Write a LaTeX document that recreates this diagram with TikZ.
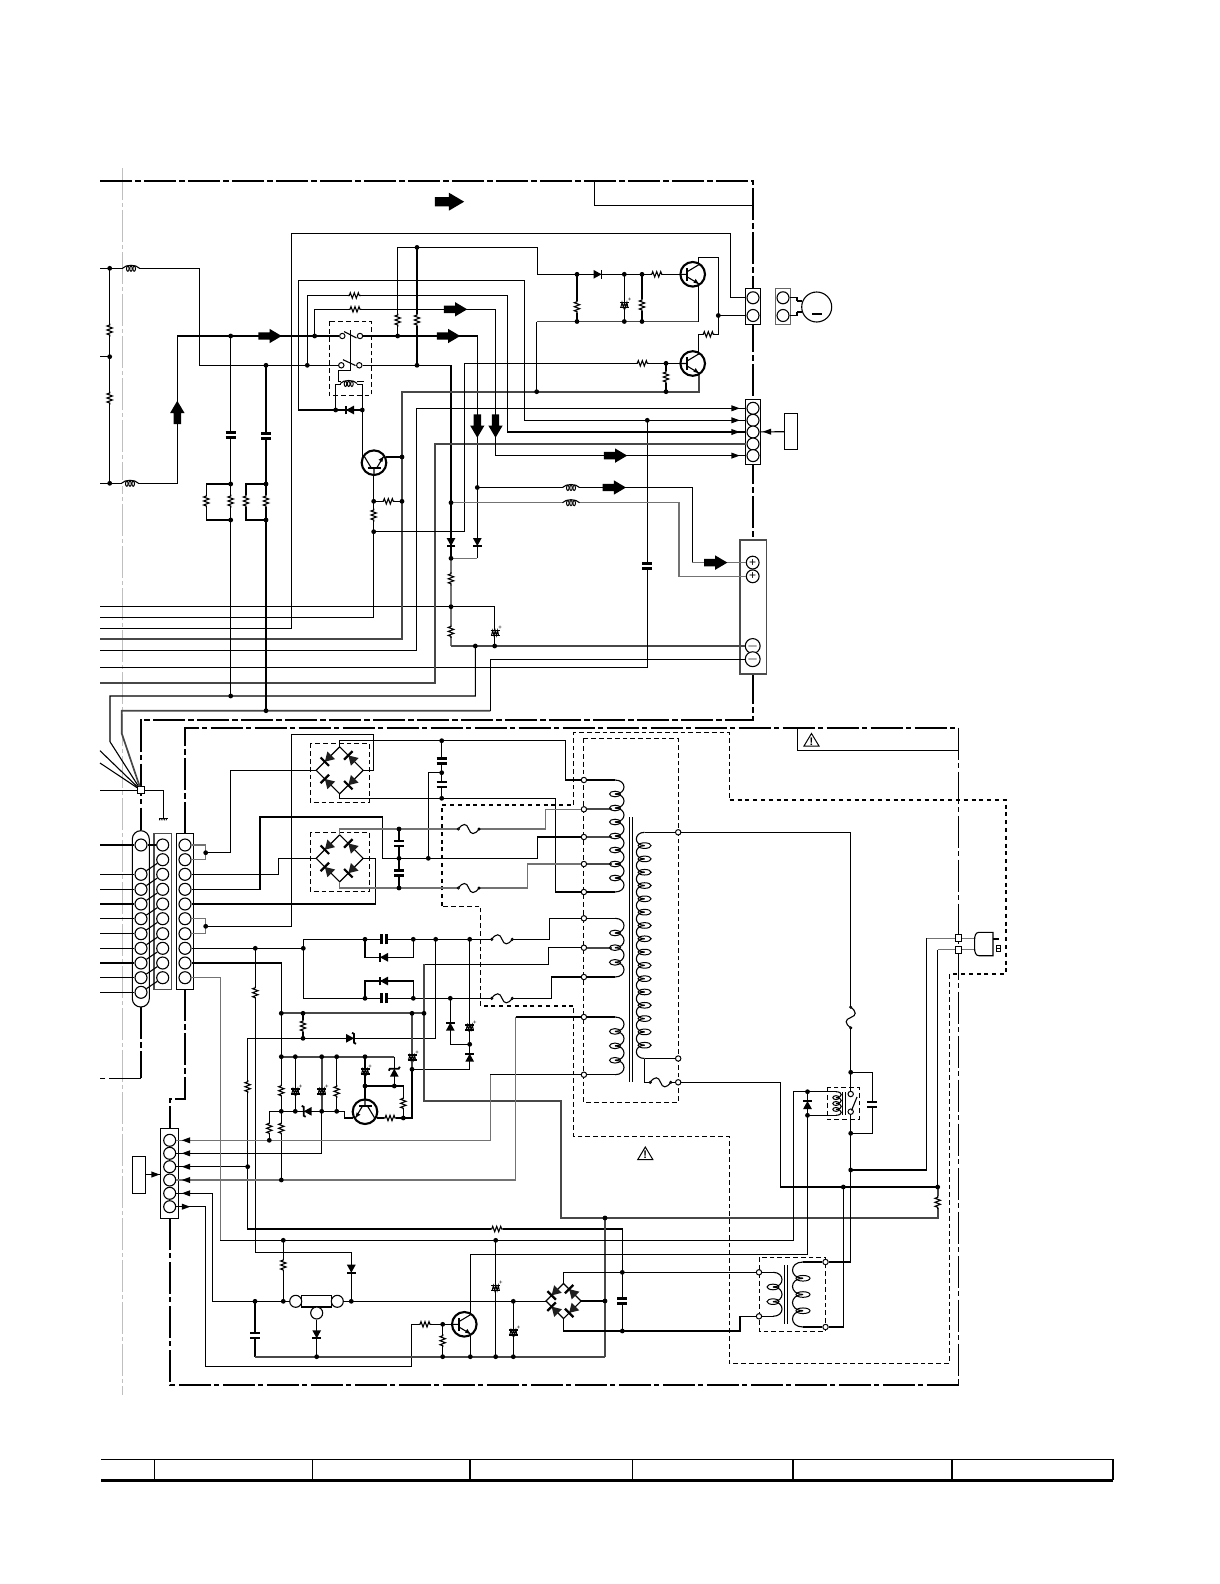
\documentclass[tikz,border=0pt]{standalone}
\usepackage{fontspec}
\setmainfont{Liberation Sans}
\tikzset{
  wire/.style={line width=0.55pt},
  gwire/.style={line width=0.62pt,black!55},
  twire/.style={line width=0.85pt,black!72},
  framel/.style={line width=1.05pt,dash pattern=on 16pt off 1.7pt on 2.6pt off 1.7pt},
  thinf/.style={line width=0.7pt,dash pattern=on 16pt off 1.7pt on 2.6pt off 1.7pt},
  dashb/.style={line width=0.5pt,dash pattern=on 2.4pt off 1.5pt},
  dashk/.style={line width=1pt,dash pattern=on 2pt off 1.9pt},
  jdot/.style={circle,fill=black,minimum size=2.4pt,inner sep=0pt},
  pinc/.style={circle,draw,fill=white,line width=0.55pt,minimum size=6pt,inner sep=0pt},
  pinp/.style={circle,draw,fill=white,line width=0.55pt,minimum size=6.4pt,inner sep=0pt,font=\fontsize{6}{6}\selectfont},
  tpin/.style={circle,draw,fill=white,line width=0.5pt,minimum size=2.7pt,inner sep=0pt},
  sqn/.style={rectangle,draw,fill=white,line width=0.5pt,minimum size=3.4pt,inner sep=0pt},
  res/.pic={
    \fill[white] (-6,-3) rectangle (6,3);
    \draw[wire] (-6.5,0)--(-5,0)--(-4,-2.7)--(-2,2.7)--(0,-2.7)--(2,2.7)--(4,-2.7)--(5,0)--(6.5,0);
  },
  capn/.pic={
    \fill[white] (-5,-2.4) rectangle (5,2.4);
    \draw[line width=1.15pt] (-5,-2.4)--(5,-2.4) (-5,2.4)--(5,2.4);
  },
  ecap/.pic={
    \fill[white] (-4.5,-2.6) rectangle (4.5,2.6);
    \draw[line width=0.85pt] (-4.5,-2.5)--(4.5,-2.5) (-4.5,2.5)--(4.5,2.5);
    \draw[line width=0.5pt] (-3.5,2.5)--(-2.3,-2.5)--(-1,2.5)--(0.2,-2.5)--(1.4,2.5)--(2.6,-2.5)--(3.6,2.5);
    \node[font=\fontsize{3}{3}\selectfont,inner sep=0pt] (-plus) at (5.2,-5) {+};
  },
  diode/.pic={
    \fill (-4,-4.4)--(-4,4.4)--(4,0)--cycle;
    \draw[line width=0.9pt] (4,-4.4)--(4,4.4);
  },
  zener/.pic={
    \fill (-4,-4.4)--(-4,4.4)--(4,0)--cycle;
    \draw[line width=0.9pt] (2,-5.5)--(4,-4.4)--(4,4.4)--(6,5.5);
  },
  bdiode/.pic={
    \fill[black!88] (-4.6,-5.4)--(-4.6,5.4)--(4.4,0)--cycle;
    \draw[line width=1.1pt] (4.4,-6)--(4.4,6);
  },
  bridge/.pic={
    \draw[wire] (-23.5,0)--(0,-23.5)--(23.5,0)--(0,23.5)--cycle;
    \pic[rotate=225] at (-11.75,-11.75) {bdiode};
    \pic[rotate=135] at (-11.75,11.75) {bdiode};
    \pic[rotate=135] at (11.75,-11.75) {bdiode};
    \pic[rotate=225] at (11.75,11.75) {bdiode};
  },
  trans/.pic={
    \fill[white] (0,0) circle (12.3);
    \draw[line width=1.05pt] (0,0) circle (12.3);
    \draw[line width=1pt] (-5.5,-6.5)--(-5.5,6.5);
    \draw[wire] (-12.3,0)--(-5.5,0) (-5.5,-2.6)--(6,-9.5) (-5.5,2.6)--(6,9.5);
    \fill (6,9.5)--(0.7,8.3)--(3,4.6)--cycle;
  },
  inductor/.pic={
    \fill[white] (-8,-3) rectangle (8,3);
    \draw[wire] (-8.5,0) .. controls (-5,-4) and (5,-4) .. (8.5,0);
    \foreach \k in {-3.2,0,3.2} \draw[line width=0.5pt] (\k,0.4) ellipse (1.3 and 2.6);
  },
  fuse/.pic={
    \fill[white] (-10,-5) rectangle (10,5);
    \draw[wire] (-10.3,0) .. controls (-6,-6) and (-2,-6) .. (0,0) .. controls (2,6) and (6,6) .. (10.3,0);
    \draw[line width=0.45pt,fill=white] (-10.3,0) circle (1.1) (10.3,0) circle (1.1);
  },
  headr/.pic={\fill (-4.2,-3.1)--(-4.2,3.1)--(4.2,0)--cycle;},
  blockar/.pic={
    \fill (-11.7,-3.7)--(-0.5,-3.7)--(-0.5,-7.2)--(11.7,0)--(-0.5,7.2)--(-0.5,3.7)--(-11.7,3.7)--cycle;
  },
  gnd/.pic={
    \draw[line width=0.8pt] (-4.4,0)--(4.4,0);
    \foreach \k in {-3.4,-1.7,0,1.7,3.4} \draw[line width=0.4pt] (\k,0)--(\k-0.6,2);
  },
  warntri/.pic={
    \draw[line width=0.5pt] (-7.5,6)--(0,-6.5)--(7.5,6)--cycle;
    \node[font=\fontsize{5.5}{5.5}\selectfont\bfseries,inner sep=0pt] (-mark) at (0,1.5) {!};
  },
}
% one winding, from the top to the bottom with little loops at the joints
\newcommand{\winding}[6]{%
  \pgfmathsetmacro{\wstep}{(#3-#2)/(#4+1)}
  \pgfmathsetmacro{\wx}{#1+#5}
  \pgfmathsetmacro{\wry}{min(2.8,0.33*\wstep)}
  \foreach \k in {0,...,#4}{
    \pgfmathsetmacro{\wa}{#2+\k*\wstep}
    \pgfmathsetmacro{\wb}{\wa+\wstep}
    \draw[wire] (#1,\wa) .. controls (\wx,\wa) and (\wx,\wb) .. (#1,\wb);
  }
  \foreach \k in {1,...,#4}{
    \pgfmathsetmacro{\wa}{#2+\k*\wstep}
    \draw[line width=0.5pt] (#1,\wa) ellipse (#6 and \wry);
  }
}
\begin{document}
\begin{tikzpicture}[x=0.5pt,y=-0.5pt]
  \useasboundingbox (0,0) rectangle (1220,1584);
  % cut line
  \draw[line width=0.5pt,black!25,dash pattern=on 16pt off 1.5pt on 2pt off 1.5pt] (122.5,168) -- (122.5,1395);
  % board frames
  \draw[framel] (100,181) -- (753,181) -- (753,720) -- (140.7,720) -- (140.7,830);
  \draw[framel] (140.7,1007) -- (140.7,1078.3);
  \draw[thinf] (140.7,1078.3) -- (100,1078.3);
  \draw[framel] (185,834) -- (185,727.7) -- (958.5,727.7);
  \draw[thinf] (958.5,727.7) -- (958.5,1385);
  \draw[framel] (958.5,1385) -- (170,1385) -- (170,1128);
  \draw[framel] (185,989) -- (185,1099) -- (170,1099) -- (170,1128);
  \draw[wire] (594.3,181) -- (594.3,205.5) -- (753,205.5);
  \draw[wire] (797.4,727.7) -- (797.4,750.7) -- (958.5,750.7);
  % shield dashes
  \draw[dashb] (573.5,805) -- (573.5,732.7) -- (729.7,732.7) -- (729.7,800);
  \draw[dashk] (729.7,800) -- (1006,800) -- (1006,974) -- (949.8,974);
  \draw[dashb] (949.8,974) -- (949.8,1363) -- (729,1363) -- (729,1136.7) -- (573.4,1136.7) -- (573.4,1006);
  \draw[dashk] (573.4,1006) -- (480.7,1006);
  \draw[dashb] (480.7,1006) -- (480.7,906) -- (441.8,906);
  \draw[dashk] (441.8,906) -- (441.8,805) -- (573.5,805);
  \draw[dashb] (583.5,738.3) rectangle (678.2,1102.3);
  \draw[dashb] (759.3,1257.3) rectangle (825.7,1331);
  \draw[dashb] (827.3,1087.3) rectangle (859.3,1119.3);
  \draw[dashb] (329.3,321.3) rectangle (371.3,395.3);
  \draw[dashb] (310.3,743.3) rectangle (369.3,802.3);
  \draw[dashb] (310.3,832.3) rectangle (369.3,891.3);
  % connector blocks
  \draw[line width=0.55pt,fill=white] (745.7,288.8) rectangle (760.7,324.3);
  \draw[line width=0.55pt,black!60,fill=white] (775.3,288.8) rectangle (790.3,324.3);
  \draw[line width=0.55pt,fill=white] (745.7,399.7) rectangle (760.7,464.4);
  \draw[line width=0.55pt,fill=white] (784.7,413.5) rectangle (797.7,449.3);
  \draw[line width=0.6pt,black!70,fill=white] (740,540) rectangle (766.7,674);
  \draw[line width=0.55pt,fill=white,rounded corners=4.2pt] (132.3,830.7) rectangle (149.3,1007);
  \draw[line width=0.55pt,black!70,fill=white] (154,833.3) rectangle (171.3,989.3);
  \draw[line width=0.55pt,fill=white] (176.3,833.3) rectangle (193.7,989.3);
  \draw[line width=0.55pt,fill=white] (160.7,1128.3) rectangle (178.7,1218.3);
  \draw[line width=0.55pt,fill=white] (132.3,1156.3) rectangle (145.3,1193.3);
  \draw[wire,fill=white] (301.3,1295.3) rectangle (331.3,1307);
  \node[pinc] (cm1) at (753,297.8) {};
  \node[pinc] (cm2) at (753,315.5) {};
  \node[pinc] (mp1) at (783,297.8) {};
  \node[pinc] (mp2) at (783,315.5) {};
  \node[circle,draw,line width=0.55pt,minimum size=15pt,inner sep=0pt] (mot) at (816.7,307) {};
  \foreach \y [count=\i] in {408.3,420.3,432,444,455.6} \node[pinc] (cs\i) at (753,\y) {};
  \node[pinp] (sp1) at (752.7,562.6) {+};
  \node[pinp] (sp2) at (752.7,576.3) {+};
  \node[pinp] (sm1) at (752.7,646) {$-$};
  \node[pinp] (sm2) at (752.7,659.2) {$-$};
  \foreach \y [count=\i] in {845,874.3,889.3,904,918.7,933.7,948.3,963,977.7,992.3} \node[pinc] (ov\i) at (141,\y) {};
  \foreach \y [count=\i] in {845,859.7,874.3,889.3,904,918.7,933.7,948.3,963,977.7} {
    \node[pinc] (st\i) at (162.7,\y) {};
    \node[pinc] (sr\i) at (185,\y) {};
  }
  \foreach \y [count=\i] in {1140.3,1153.3,1166.7,1180,1193.3,1206.7} \node[pinc] (cb\i) at (169.7,\y) {};
  \node[pinc] (rg1) at (295.7,1301.3) {};
  \node[pinc] (rg2) at (337.3,1301.3) {};
  \node[pinc] (rg3) at (316.7,1313) {};
  \node[sqn] (fp) at (141,790.3) {};
  \node[sqn] (pl1) at (958.5,938.3) {};
  \node[sqn] (pl2) at (958.5,949.7) {};
  % relay contacts
  \node[tpin] (rc1) at (342.3,336) {};
  \node[tpin] (rc2) at (360,336) {};
  \node[tpin] (rc3) at (341.3,365.3) {};
  \node[tpin] (rc4) at (359.3,365.3) {};
  \node[tpin] (rl1) at (850.7,1094) {};
  \node[tpin] (rl2) at (850.7,1111.7) {};
  % transformer pins
  \foreach \y [count=\i] in {780,809.3,837,864,892,918.3,947.7,977,1017,1074.7} \node[tpin] (tp\i) at (583.9,\y) {};
  \node[tpin] (tq1) at (678.2,832.3) {};
  \node[tpin] (tq2) at (678.2,1058.5) {};
  \node[tpin] (tq3) at (678.2,1082.3) {};
  \node[tpin] (ta1) at (759,1272.3) {};
  \node[tpin] (ta2) at (759,1316.3) {};
  \node[tpin] (tb1) at (825.5,1262) {};
  \node[tpin] (tb2) at (825.5,1327) {};
  % left filter
  \foreach \y in {268.3,356.7,483.3} \draw[wire] (100,\y) -- (109.7,\y);
  \draw[wire] (109.7,268.3) -- (109.7,483.3);
  \draw[wire] (109.7,268.3) -- (199.3,268.3) -- (199.3,365.3) -- (rc3);
  \draw[wire] (109.7,483.3) -- (177.3,483.3) -- (177.3,336) -- (rc1);
  \draw[wire] (rc2) -- (477.3,336) -- (477.3,558.3);
  \draw[gwire] (477.3,558.3) -- (451,558.3);
  \draw[wire] (rc4) -- (451,365.3) -- (451,558.3);
  \draw[gwire] (451,558.3) -- (451,646);
  \draw[twire] (451,646) -- (sm1);
  % mains lines to the left edge
  \draw[wire] (100,606.7) -- (494.7,606.7) -- (494.7,646);
  \draw[wire] (100,617.3) -- (373.7,617.3) -- (373.7,474);
  \draw[wire] (100,628.3) -- (291.3,628.3) -- (291.3,233.4) -- (730.3,233.4) -- (730.3,297.8) -- (cm1);
  \draw[twire] (100,639) -- (402,639) -- (402,391.7) -- (698.7,391.7) -- (698.7,372);
  \draw[wire] (100,650.3) -- (416.7,650.3) -- (416.7,408.3) -- (cs1);
  \draw[wire] (100,667.3) -- (647.3,667.3) -- (647.3,420.3);
  \draw[twire] (100,683) -- (434.7,683) -- (434.7,444) -- (cs4);
  \draw[wire] (fp) -- (110,741.7) -- (110,696) -- (475.3,696) -- (475.3,646);
  \draw[twire] (fp) -- (121.7,733.3) -- (121.7,710.7) -- (490.3,710.7);
  \draw[wire] (490.3,710.7) -- (490.3,659.2) -- (sm2);
  \draw[wire] (100,750.7) -- (fp);
  \draw[wire] (100,763) -- (fp);
  \draw[wire] (100,790.3) -- (fp);
  \draw[wire] (fp) -- (163.3,790.3) -- (163.3,818);
  % switch and driver
  \draw[wire] (335.7,410) -- (298.3,410) -- (298.3,280.4) -- (524.3,280.4) -- (524.3,420.3) -- (cs2);
  \draw[wire] (307.3,365.3) -- (307.3,295.5) -- (507.3,295.5) -- (507.3,432) -- (cs3);
  \draw[wire] (314.7,336) -- (314.7,309.3) -- (495.5,309.3) -- (495.5,455.6) -- (cs5);
  \draw[wire] (397.7,336) -- (397.7,247.4) -- (537.3,247.4) -- (537.3,274.3) -- (681,274.3);
  \draw[wire] (417,365.3) -- (417,247.4);
  \draw[wire] (335.7,410) -- (362.3,410) -- (362.3,384.3) -- (335.7,384.3) -- cycle;
  \draw[wire] (362.3,410) -- (362.3,460);
  \draw[wire] (386,457) -- (402,457);
  \draw[wire] (373.7,501.3) -- (402,501.3);
  \draw[wire] (373.7,531.7) -- (464.7,531.7) -- (464.7,363.3) -- (680,363.3);
  \draw[wire] (344,331.5) -- (356.5,338);
  \draw[wire] (343,359.7) -- (355.5,365.5);
  \draw[wire] (350.3,330) -- (350.3,370.7) -- (338.7,370.7) -- (338.7,381.7) -- (364,381.7);
  % output transistors
  \draw[wire] (577,274.3) -- (577,321.5);
  \draw[twire] (536.7,321.5) -- (698.7,321.5);
  \draw[wire] (624.3,274.3) -- (624.3,321.5);
  \draw[wire] (642,274.3) -- (642,321.5);
  \draw[wire] (698.7,321.5) -- (698.7,283);
  \draw[wire] (536.7,391.7) -- (536.7,321.5);
  \draw[wire] (698.7,266) -- (698.7,257.5) -- (718.3,257.5) -- (718.3,334.3) -- (698.7,334.3) -- (698.7,355);
  \draw[wire] (718.3,315.5) -- (cm2);
  \draw[wire] (666,363.3) -- (666,391.7);
  \draw[wire] (784.7,431.7) -- (cs3);
  \draw[wire] (mp1) -| (797,301);
  \draw[wire] (797,301) -- (802,301);
  \draw[wire] (mp2) -| (797,312);
  \draw[wire] (797,312) -- (802,312);
  \draw[line width=0.7pt] (812,314) -- (821.7,314);
  % caps to the common line
  \draw[wire] (230.7,336) -- (230.7,696);
  \draw[wire] (266,365.3) -- (266,710.7);
  \draw[wire] (230.7,484) -- (206.3,484) -- (206.3,520) -- (230.7,520);
  \draw[wire] (266,484) -- (246,484) -- (246,520) -- (266,520);
  % speaker lines
  \draw[wire] (477.3,487.5) -- (692.3,487.5) -- (692.3,562.6);
  \draw[gwire] (692.3,562.6) -- (sp1);
  \draw[gwire] (450.5,502.7) -- (679,502.7) -- (679,576.3) -- (sp2);
  % bridges
  \pic at (339.7,770.3) {bridge};
  \pic at (339.7,858.3) {bridge};
  \pic[scale=0.745] at (563.5,1301) {bridge};
  % connector to bridges
  \foreach \i in {2,...,10} \draw[wire] (ov\i) -- (st\i);
  \draw[wire] (ov1) -- (st1);
  \foreach \y [count=\i] in {845,874.3,889.3,904,918.7,933.7,948.3,963,977.7,992.3} \draw[wire] (100,\y) -- (ov\i);
  \draw[gwire] (sr1) -- (205.7,845) -- (205.7,859.7) -- (sr2);
  \draw[wire] (205.7,852.7) -- (230.3,852.7) -- (230.3,770.3) -- (316.2,770.3);
  \draw[wire] (sr3) -- (278.3,874.3) -- (278.3,858.3) -- (316.2,858.3);
  \draw[wire] (sr4) -- (260,889.3) -- (260,817) -- (382.7,817) -- (382.7,858.3) -- (537.3,858.3) -- (537.3,837) -- (tp3);
  \draw[wire] (sr5) -- (375.3,904) -- (375.3,858.3) -- (363.2,858.3);
  \draw[gwire] (sr6) -- (205.7,918.7) -- (205.7,933.7) -- (sr7);
  \draw[wire] (205.7,926.3) -- (291.7,926.3) -- (291.7,734.3) -- (373.3,734.3) -- (373.3,770.3) -- (363.2,770.3);
  \draw[wire] (339.7,746.8) -- (339.7,740.7) -- (565.8,740.7) -- (565.8,780) -- (tp1);
  \draw[wire] (339.7,793.8) -- (339.7,798.3) -- (555.8,798.3) -- (555.8,892) -- (tp5);
  \draw[wire] (441.7,740.7) -- (441.7,798.3);
  \draw[wire] (441.7,772.7) -- (428.3,772.7) -- (428.3,858.3);
  \draw[gwire] (339.7,834.8) -- (339.7,829) -- (545.4,829) -- (545.4,809.3) -- (tp2);
  \draw[gwire] (339.7,881.8) -- (339.7,888) -- (527.3,888) -- (527.3,864) -- (tp4);
  \draw[wire] (399,829) -- (399,888);
  % rectifier rows
  \draw[wire] (sr8) -- (303.3,948.3);
  \draw[wire] (303.3,939.3) -- (303.3,998.3);
  \draw[wire] (303.3,939.3) -- (549.5,939.3) -- (549.5,918.3) -- (tp6);
  \draw[wire] (303.3,998.3) -- (551.3,998.3) -- (551.3,977) -- (tp8);
  \draw[wire] (365,939.3) -- (365,957.3) -- (413.3,957.3) -- (413.3,939.3);
  \draw[wire] (365,998.3) -- (365,981) -- (413.3,981) -- (413.3,998.3);
  \draw[wire] (255.3,948.3) -- (255.3,1252.3) -- (351.3,1252.3) -- (351.3,1301.3);
  \draw[wire] (435.7,939.3) -- (435.7,1038.3) -- (247.7,1038.3) -- (247.7,1229) -- (622.3,1229) -- (622.3,1331);
  \draw[wire] (469.7,939.3) -- (469.7,1069.3) -- (412,1069.3);
  \draw[wire] (469.7,1044.3) -- (450.3,1044.3) -- (450.3,998.3);
  \draw[wire] (sr9) -- (281.3,963) -- (281.3,1180);
  \draw[twire] (281.3,1013.3) -- (424,1013.3);
  \draw[wire] (424,964.3) -- (548.4,964.3) -- (548.4,947.7) -- (tp7);
  \draw[twire] (424,964.3) -- (424,1100.7) -- (560.7,1100.7) -- (560.7,1218) -- (937.7,1218) -- (937.7,1187);
  \draw[twire] (605,1218) -- (605,1356.7);
  \draw[wire] (303,1013.3) -- (303,1038.3);
  \draw[twire] (412,1013.3) -- (412,1069.3);
  \draw[wire] (412,1069.3) -- (412,1118) -- (377,1118);
  % regulator
  \draw[twire] (281.3,1056.7) -- (394.3,1056.7);
  \draw[wire] (394.3,1056.7) -- (394.3,1086);
  \draw[wire] (295.3,1056.7) -- (295.3,1111.3);
  \draw[twire] (321.7,1056.7) -- (321.7,1111.3);
  \draw[wire] (321.7,1111.3) -- (321.7,1153.3) -- (cb2);
  \draw[wire] (336.7,1056.7) -- (336.7,1111.3);
  \draw[wire] (365,1056.7) -- (365,1099);
  \draw[wire] (365,1086) -- (403.3,1086) -- (403.3,1118);
  \draw[wire] (269.3,1140.3) -- (269.3,1111.3) -- (344.3,1111.3) -- (344.3,1118) -- (353,1118);
  \draw[gwire] (cb1) -- (490.3,1140.3) -- (490.3,1074.7);
  \draw[wire] (490.3,1074.7) -- (tp10);
  \draw[wire] (cb3) -- (247.7,1166.7);
  \draw[gwire] (cb4) -- (515.5,1180) -- (515.5,1017);
  \draw[wire] (515.5,1017) -- (tp9);
  \draw[wire] (cb5) -- (212.7,1193.3) -- (212.7,1301.3) -- (rg1);
  \draw[wire] (cb6) -- (205.7,1206.7) -- (205.7,1366.3) -- (411.3,1366.3) -- (411.3,1324.3) -- (453,1324.3);
  \draw[gwire] (sr10) -- (220.3,977.7) -- (220.3,1240.3);
  \draw[wire] (220.3,1240.3) -- (793.3,1240.3) -- (793.3,1091.7) -- (836,1091.7);
  \draw[wire] (283.3,1240.3) -- (283.3,1301.3);
  \draw[wire] (495.7,1240.3) -- (495.7,1356.7);
  \draw[wire] (rg2) -- (546,1301.3);
  \draw[wire] (rg3) -- (316.7,1356.7);
  \draw[wire] (255,1301.3) -- (255,1356.7);
  \draw[twire] (255,1356.7) -- (605,1356.7);
  \draw[wire] (442.7,1324.3) -- (442.7,1356.7);
  \draw[wire] (470.3,1333) -- (470.3,1356.7);
  \draw[wire] (470.3,1316) -- (470.3,1254.3) -- (807.5,1254.3) -- (807.5,1091.7);
  \draw[wire] (513.3,1301.3) -- (513.3,1356.7);
  \draw[wire] (563.5,1283.5) -- (563.5,1272.3) -- (ta1);
  \draw[wire] (563.5,1318.5) -- (563.5,1331) -- (740,1331) -- (740,1316.3) -- (ta2);
  \draw[wire] (581,1301) -- (605,1301);
  % transformers
  \draw[wire] (tp1) -- (615,780);
  \draw[wire] (tp5) -- (615,892);
  \draw[wire] (tp6) -- (615,918.3);
  \draw[wire] (tp8) -- (615,977);
  \draw[wire] (tp9) -- (615,1017);
  \draw[wire] (tp10) -- (615,1074.7);
  \draw[twire] (tp2) -- (612,809.3);
  \draw[twire] (tp3) -- (612,837);
  \draw[twire] (tp4) -- (612,864);
  \draw[twire] (tp7) -- (612,947.7);
  \winding{615}{780}{892}{7}{12}{5.5}
  \winding{615}{918.3}{977}{3}{12}{5.5}
  \winding{615}{1017}{1074.7}{3}{12}{5.5}
  \draw[wire] (629.8,817.3) -- (629.8,1081.7) (632.6,817.3) -- (632.6,1081.7);
  \winding{644.6}{832.3}{1058.5}{16}{-11}{6.5}
  \draw[wire] (tq1) -- (644.6,832.3);
  \draw[wire] (644.6,1058.5) -- (tq2);
  \draw[wire] (644.6,1058.5) -- (644.6,1082.3) -- (tq3);
  \draw[wire] (ta1) -- (773,1272.3);
  \draw[wire] (ta2) -- (773,1316.3);
  \winding{773}{1272.3}{1316.3}{2}{12}{6}
  \draw[wire] (784.3,1265.3) -- (784.3,1324) (787.7,1265.3) -- (787.7,1324);
  \draw[wire] (tb1) -- (803,1262);
  \draw[wire] (tb2) -- (803,1327);
  \winding{803}{1262}{1327}{3}{-14}{7}
  % mains side
  \draw[wire] (tq1) -- (850.7,832.3) -- (rl1);
  \draw[wire] (rl2) -- (850.7,1262) -- (tb1);
  \draw[wire] (850.7,1072.3) -- (872.3,1072.3) -- (872.3,1133.3) -- (850.7,1133.3);
  \draw[wire] (850.7,1170) -- (926.5,1170) -- (926.5,938.3);
  \draw[gwire] (926.5,938.3) -- (pl1);
  \draw[wire] (tq3) -- (780.7,1082.3) -- (780.7,1187) -- (937.7,1187) -- (937.7,949.7);
  \draw[gwire] (937.7,949.7) -- (pl2);
  \draw[wire] (843.3,1187) -- (843.3,1327) -- (tb2);
  \draw[wire] (807.5,1115.3) -- (836,1115.3);
  \winding{836}{1091.7}{1115.3}{3}{7}{3.2}
  \draw[wire] (842.7,1092) -- (842.7,1115) (845.7,1092) -- (845.7,1115);
  \draw[wire] (851.5,1110.5) -- (857,1097);
  % mains plug
  \draw[gwire] (pl1) -- (974.6,938.3);
  \draw[gwire] (pl2) -- (974.6,949.7);
  \draw[wire] (993,932.3) -- (979,932.3) .. controls (975.5,932.3) and (974.6,936) .. (974.6,940) -- (974.6,948) .. controls (974.6,952) and (975.5,955.7) .. (979,955.7) -- (993,955.7) -- cycle;
  \draw[line width=0.9pt] (993,939.3) -- (999,939.3);
  \draw[line width=0.5pt] (996,945.5) rectangle (1000,951.5);
  \draw[line width=0.4pt] (996,948.5) -- (1000,948.5);
  % resistors
  \foreach \x/\y in {109.7/330,109.7/398,206.3/501,230.7/501,246/501,266/501,397.7/320,417/320,373.7/515,577/306.7,642/305,666/377,451/578.8,451/631.4,255.3/992.7,303/1026,281.3/1090.7,281.3/1128.3,269.3/1128.3,336.7/1091.3,403.3/1103.3,247.7/1086.7,283.3/1265,442.7/1340.7,937.7/1202.3}
    \pic[rotate=90] at (\x,\y) {res};
  \foreach \x/\y in {354.3/295.5,355/309.3,388.3/501.3,656.7/274.3,642.3/363.3,708.3/334.3,390/1118,425/1324.3,496.7/1229}
    \pic at (\x,\y) {res};
  % capacitors
  \foreach \x/\y in {230.7/435,266/436,647.3/566,441.7/761,441.7/784.3,399/843.7,399/873,255/1335.7,622.3/1301,872.3/1104.7}
    \pic at (\x,\y) {capn};
  \foreach \y in {939.3,998.3} \pic[rotate=90] at (384,\y) {capn};
  \foreach \x/\y [count=\i] in {624.3/305,495/633,412/1057.7,469.7/1027.3,295.3/1091.3,321.7/1091.3,365/1071.7,495.7/1288,513.3/1332.3}
    \pic (ec\i) at (\x,\y) {ecap};
  % diodes and zeners
  \pic[rotate=180] at (350,410) {diode};
  \pic at (597.5,274.3) {diode};
  \foreach \x/\y in {451/542,477.3/542,351.3/1268.7,316.7/1334.3}
    \pic[rotate=-90] at (\x,\y) {diode};
  \foreach \x/\y in {450.3/1026.7,469.7/1057.7,807.5/1105}
    \pic[rotate=90] at (\x,\y) {diode};
  \pic[rotate=180] at (384,957.3) {diode};
  \pic[rotate=180] at (384,981) {diode};
  \pic at (350,1038.3) {zener};
  \pic[rotate=180] at (307.7,1111.3) {zener};
  \pic[rotate=90] at (394.3,1072.7) {zener};
  % transistors
  \pic at (692.7,274.3) {trans};
  \pic at (692.7,363.5) {trans};
  \pic[rotate=90] at (374,462.7) {trans};
  \pic[rotate=-90] at (365,1111.7) {trans};
  \pic at (464.3,1324.3) {trans};
  % coils and fuses
  \pic at (131,268.3) {inductor};
  \pic at (130,483.3) {inductor};
  \pic at (571,487.5) {inductor};
  \pic at (571,502.7) {inductor};
  \pic at (348.7,383.5) {inductor};
  \foreach \x/\y in {468.7/829,468.7/888,502/939.3,502/998.3,660.5/1082.3} \pic at (\x,\y) {fuse};
  \pic[rotate=90] at (850.7,1017.5) {fuse};
  % signal arrows
  \foreach \x/\y in {270/336,455.5/309.3,448.5/336,615.5/455.6,614.3/487.5,715.7/562.6} \pic at (\x,\y) {blockar};
  \pic[scale=1.25] at (449.5,201.7) {blockar};
  \pic[rotate=90] at (177.3,412.5) {blockar};
  \pic[rotate=-90] at (477.3,426) {blockar};
  \pic[rotate=-90] at (495.5,426) {blockar};
  \foreach \y in {408.3,420.3,432,455.6} \pic at (735.5,\y) {headr};
  \pic[rotate=180] at (767,431.7) {headr};
  \foreach \y in {1140.3,1153.3,1166.7,1180,1193.3} \pic[rotate=180] at (186,\y) {headr};
  \pic at (186,1206.7) {headr};
  \draw[wire] (145.3,1174.5) -- (160.7,1174.5);
  \pic at (155.5,1174.5) {headr};
  \pic at (163.3,818.3) {gnd};
  % junctions
  \foreach \x/\y [count=\i] in {109.7/268.3,109.7/356.7,109.7/483.3,230.7/336,230.7/484,230.7/520,230.7/696,266/365.3,266/484,266/520,266/710.7,314.7/336,307.3/365.3,397.7/336,417/365.3,417/247.4,335.7/410,362.3/410,402/457,373.7/501.3,402/501.3,373.7/531.7,451/502.7,477.3/487.5,451/558.3,451/606.7,475.3/646,494.7/646,577/274.3,624.3/274.3,642/274.3,577/321.5,624.3/321.5,642/321.5,718.3/315.5,666/363.3,666/391.7,536.7/391.7,647.3/420.3,205.7/852.7,205.7/926.3,441.7/740.7,441.7/772.7,441.7/798.3,399/829,399/858.3,428.3/858.3,399/888,255.3/948.3,303.3/948.3,365/939.3,413.3/939.3,435.7/939.3,469.7/939.3,365/998.3,413.3/998.3,450.3/998.3,281.3/1013.3,303/1013.3,412/1013.3,424/1013.3,303/1038.3,281.3/1056.7,295.3/1056.7,321.7/1056.7,336.7/1056.7,365/1056.7,394.3/1086,365/1086,412/1069.3,469.7/1044.3,281.3/1111.3,295.3/1111.3,321.7/1111.3,336.7/1111.3,403.3/1118,269.3/1140.3,247.7/1166.7,281.3/1180,283.3/1240.3,351.3/1301.3,283.3/1301.3,255/1301.3,316.7/1356.7,442.7/1324.3,442.7/1356.7,470.3/1356.7,495.7/1240.3,495.7/1356.7,513.3/1301.3,513.3/1356.7,605/1218,605/1301,622.3/1272.3,622.3/1331,850.7/1072.3,850.7/1133.3,850.7/1170,807.5/1091.7,807.5/1115.3,843.3/1187,937.7/1187}
    \node[jdot] (j\i) at (\x,\y) {};
  % warning signs
  \pic (wa) at (811.5,740) {warntri};
  \pic (wb) at (645.3,1153.5) {warntri};
  % title strip
  \draw[line width=0.8pt] (101,1459.3) -- (1113.4,1459.3);
  \draw[line width=1.5pt] (101,1480) -- (1113.4,1480);
  \draw[line width=1pt] (1113.4,1459.3) -- (1113.4,1480);
  \foreach \x in {154.3,312.2,470,632.5,793,952}
    \draw[line width=0.55pt] (\x,1459.3) -- (\x,1480);
\end{tikzpicture}
\end{document}
